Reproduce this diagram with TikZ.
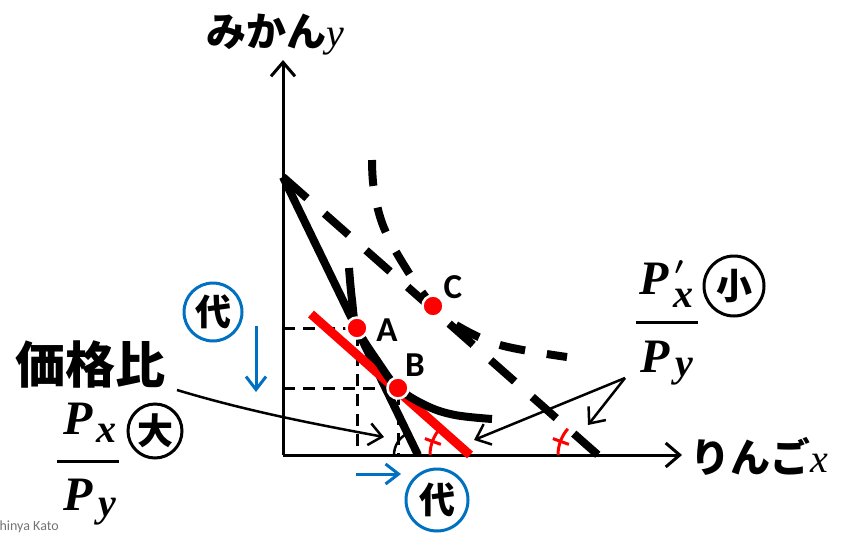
\documentclass[tikz,border=0pt]{standalone}
\usepackage{fontspec}
\setmainfont{Liberation Serif}
\newfontfamily\jp{Noto Sans CJK JP}
\newfontfamily\carl{Carlito}
\usetikzlibrary{arrows.meta,calc}
\definecolor{bl}{RGB}{0,112,192}
\definecolor{rd}{RGB}{255,0,0}
\begin{document}
\begin{tikzpicture}[x=1pt,y=-1pt,
  ax/.style={line width=3pt,-{Straight Barb[length=14pt,width=24pt,line width=3pt]}},
  thinarrow/.style={line width=2.5pt,-{Straight Barb[length=13pt,width=22pt,line width=2.5pt]}},
  barrow/.style={bl,line width=3pt,-{Straight Barb[length=13pt,width=20pt,line width=3pt]}},
  projd/.style={line width=3pt,dash pattern=on 12pt off 8pt},
  budget/.style={line width=8pt},
  dbudget/.style={line width=8pt,dash pattern=on 32pt off 23.4pt},
  icurve/.style={line width=8pt},
  dcurve/.style={line width=8pt,dash pattern=on 26pt off 22pt},
  dot/.style={circle,fill=rd,draw=white,line width=2.5pt,minimum size=21pt,inner sep=0pt},
  ptlab/.style={font=\carl\bfseries\fontsize{35}{38}\selectfont,inner sep=0pt},
  circ/.style={circle,line width=3pt,minimum size=58pt,inner sep=0pt,font=\jp\bfseries\fontsize{36}{38}\selectfont},
  anglemark/.style={rd,line width=3pt},
  bigP/.style={font=\bfseries\itshape\fontsize{48}{50}\selectfont,inner sep=0pt},
  subs/.style={font=\bfseries\itshape\fontsize{40}{42}\selectfont,inner sep=0pt},
  jlab/.style={font=\jp\bfseries\fontsize{40}{44}\selectfont,inner sep=0pt}]
\useasboundingbox (0,0) rectangle (843,533);

% axes
\coordinate (O) at (283,455);
\coordinate (Ytop) at (283,60);
\coordinate (Xend) at (682,455);
\draw[ax] (O) -- (Ytop);
\draw[ax] (O) -- (Xend);

% points
\coordinate (Apt) at (357,328);
\coordinate (Bpt) at (398,388);
\coordinate (Cpt) at (433,306);

% projections
\draw[projd] (283,328) -- (Apt) -- (357,455);
\draw[projd] (283,388) -- (Bpt) -- (398,455);

% budget lines
\coordinate (Yint) at (283,177);
\coordinate (X1) at (418,455);
\coordinate (X2) at (598,455);
\coordinate (R1) at (311,314);
\coordinate (R2) at (470,455);
\draw[budget] (Yint) -- (X1);
\draw[dbudget] (Yint) -- (X2);
\draw[rd,line width=9pt] (R1) -- (R2);

% indifference curves
\draw[icurve] plot[smooth,tension=0.6] coordinates {(349,268) (352,300) (357,328) (378,362) (398,388) (427,406) (455,415) (492,419)};
\draw[dcurve] plot[smooth,tension=0.6] coordinates {(372,160) (374,190) (384,228) (407,270) (433,306) (456,325) (500,345) (567,357)};

% angle marks
\draw[line width=2.5pt] ($(X1)+(180:24)$) arc[start angle=180,end angle=244,radius=24];
\draw[anglemark] ($(R2)+(180:40)$) arc[start angle=180,end angle=221,radius=40];
\draw[anglemark] ($(R2)+(200:31)$) -- ($(R2)+(200:48)$);
\draw[anglemark] ($(X2)+(180:40)$) arc[start angle=180,end angle=221,radius=40];
\draw[anglemark] ($(X2)+(200:31)$) -- ($(X2)+(200:48)$);

% dots and labels
\node[dot] (A) at (Apt) {};
\node[dot] (B) at (Bpt) {};
\node[dot] (C) at (Cpt) {};
\node[ptlab] (Al) at (387,330) {A};
\node[ptlab] (Bl) at (415,365) {B};
\node[ptlab] (Cl) at (453,287) {C};

% axis labels
\node[jlab,anchor=base west] (ylab) at (206,46) {みかん\textnormal{\itshape\fontsize{40}{44}\selectfont y}};
\node[jlab,anchor=base west] (xlab) at (690,472) {りんご\textnormal{\itshape\fontsize{40}{44}\selectfont x}};
\node[font=\jp\bfseries\fontsize{50}{54}\selectfont,inner sep=0pt] (kakaku) at (90,364) {価格比};

% left fraction
\node[bigP] (lP1) at (78,419) {P};
\node[subs] (lx) at (106,433) {x};
\draw[line width=3pt] (57,461) -- (119,461);
\node[bigP] (lP2) at (78,495) {P};
\node[subs] (ly) at (107,512) {y};
\node[circ,draw=black,minimum size=54pt] (dai) at (155,431) {大};

% right fraction
\node[bigP] (rP1) at (654,279) {P};
\node[font=\boldmath\fontsize{26}{28}\selectfont,inner sep=0pt] (prime) at (679,268) {$\prime$};
\node[subs] (rx) at (683,298) {x};
\draw[line width=3pt] (636,322) -- (698,322);
\node[bigP] (rP2) at (655,357) {P};
\node[subs] (ry) at (684,372) {y};
\node[circ,draw=black,minimum size=60pt] (sho) at (734,286) {小};

% pointer arrows
\coordinate (src) at (625,378);
\coordinate (t1) at (474,440);
\coordinate (t2) at (588,425);
\draw[thinarrow] (src) -- (t1);
\draw[thinarrow] (src) -- (t2);
\coordinate (ks) at (177,390);
\coordinate (ke) at (384,437);
\draw[thinarrow] (ks) .. controls (250,412) and (320,425) .. (ke);

% blue substitution marks
\node[circ,draw=bl] (d1) at (213,312) {代};
\node[circ,draw=bl,minimum size=62pt] (d2) at (437,500) {代};
\coordinate (ba1) at (256,326);
\coordinate (ba2) at (256,392);
\draw[barrow] (ba1) -- (ba2);
\coordinate (bb1) at (356,474);
\coordinate (bb2) at (401,474);
\draw[barrow] (bb1) -- (bb2);

% watermark
\node[font=\carl\fontsize{14}{16}\selectfont,text=black!55,anchor=base east,inner sep=0pt] (wm) at (59,530) {Shinya Kato};
\end{tikzpicture}
\end{document}
